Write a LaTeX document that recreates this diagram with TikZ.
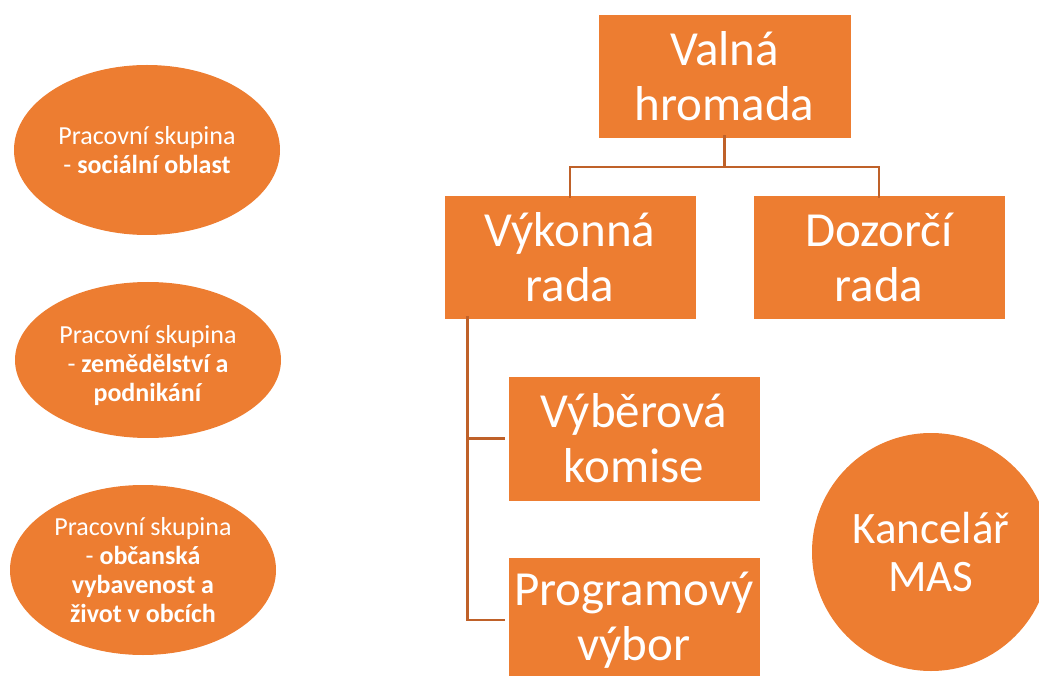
\documentclass[tikz,border=0pt]{standalone}
\usepackage{fontspec}
\setmainfont{Carlito}
\usetikzlibrary{shapes.geometric,calc}
\definecolor{org}{HTML}{ED7D31}
\definecolor{lin}{HTML}{BF6129}
\tikzset{
  orgbox/.style={rectangle,fill=org,draw=white,line width=0.6pt,minimum width=252pt,minimum height=124pt,inner sep=0pt,text=white,align=center,font=\fontsize{49}{55}\selectfont},
  orgell/.style={ellipse,fill=org,minimum width=266pt,inner sep=0pt,text=white,align=center,font=\fontsize{26}{29}\selectfont},
  orgcirc/.style={circle,fill=org,minimum size=238pt,inner sep=0pt,text=white,align=center,font=\fontsize{45}{48}\selectfont},
  conn/.style={draw=lin,line width=2.5pt}
}
\begin{document}
\begin{tikzpicture}[x=1pt,y=-1pt]
\useasboundingbox (0,0) rectangle (1039,676);
\clip (0,0) rectangle (1039,676);
\node[orgell,minimum height=170pt] (e1) at (147,150) {Pracovní skupina\\- \textbf{sociální oblast}};
\node[orgell,minimum height=156pt] (e2) at (148,360) {\rule{0pt}{30pt}Pracovní skupina\\- \textbf{zemědělství a}\\\textbf{podnikání}};
\node[orgell,minimum height=170pt] (e3) at (143,570) {Pracovní skupina\\- \textbf{občanská}\\\textbf{vybavenost a}\\\textbf{život v obcích}};
\node[orgbox,minimum width=253pt] (valna) at (724.5,76) {Valná\\hromada};
\node[orgbox] (vykonna) at (570,257) {Výkonná\\rada};
\node[orgbox] (dozorci) at (879,257) {Dozorčí\\rada};
\node[orgbox,minimum height=125pt] (vyber) at (634,438.5) {Výběrová\\komise};
\node[orgbox,minimum height=126pt] (program) at (634,620) {Programový\\výbor};
\node[orgcirc] (kancelar) at (931,552) {Kancelář\\MAS};
\coordinate (hub) at (724.5,167);
\draw[conn] ([yshift=3pt]valna.south) -- (hub);
\draw[conn] (hub) -| ([yshift=-3pt]vykonna.north);
\draw[conn] (hub) -| ([yshift=-3pt]dozorci.north);
\coordinate (vtop) at ([xshift=24pt,yshift=3pt]vykonna.south west);
\draw[conn] (vtop) |- ([xshift=-3pt]vyber.west);
\draw[conn] (vtop) |- ([xshift=-3pt]program.west);
\end{tikzpicture}
\end{document}
